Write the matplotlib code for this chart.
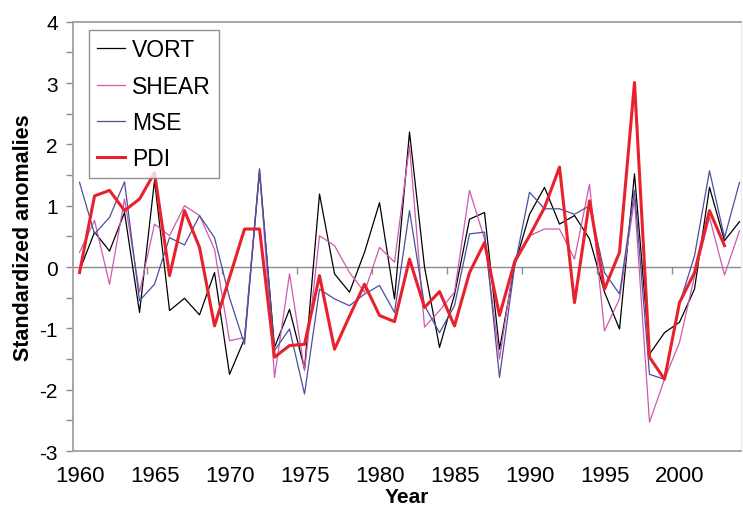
import numpy as np
import matplotlib
matplotlib.use("Agg")
import matplotlib.pyplot as plt

plt.rcParams['font.family'] = ['Liberation Sans', 'DejaVu Sans']

years = np.arange(1960, 2005)

vort = [-0.06, 0.57, 0.26, 0.89, -0.74, 1.41, -0.71, -0.51, -0.78, -0.09,
        -1.75, -1.17, 1.55, -1.31, -0.69, -1.66, 1.19, -0.11, -0.41, 0.24,
        1.05, -0.52, 2.20, 0.00, -1.31, -0.45, 0.78, 0.89, -1.34, 0.02,
        0.86, 1.30, 0.70, 0.84, 0.46, -0.41, -1.01, 1.52, -1.42, -1.07,
        -0.90, -0.36, 1.30, 0.43, 0.74]

shear = [0.24, 0.76, -0.28, 1.11, -0.41, 0.70, 0.51, 1.00, 0.84, 0.29,
         -1.20, -1.15, 1.60, -1.80, -0.11, -1.69, 0.51, 0.35, -0.09, -0.41,
         0.32, 0.08, 1.98, -0.98, -0.71, -0.41, 1.25, 0.46, -1.50, 0.13,
         0.51, 0.62, 0.62, 0.13, 1.35, -1.04, -0.52, 1.11, -2.53, -1.83,
         -1.23, -0.15, 0.81, -0.13, 0.59]

mse = [1.38, 0.54, 0.81, 1.39, -0.55, -0.28, 0.48, 0.36, 0.84, 0.48,
       -0.50, -1.26, 1.60, -1.36, -1.01, -2.07, -0.36, -0.52, -0.63, -0.44,
       -0.30, -0.74, 0.92, -0.63, -1.07, -0.63, 0.54, 0.57, -1.80, 0.00,
       1.22, 0.95, 0.95, 0.86, 1.00, -0.09, -0.44, 1.25, -1.75, -1.83,
       -0.60, 0.18, 1.57, 0.48, 1.38]

# PDI stops at 2003
pdi = [-0.09, 1.16, 1.25, 0.92, 1.11, 1.54, -0.14, 0.92, 0.32, -0.96,
       -0.17, 0.62, 0.62, -1.47, -1.28, -1.26, -0.14, -1.34, -0.80, -0.28,
       -0.79, -0.89, 0.13, -0.66, -0.40, -0.96, -0.09, 0.40, -0.79, 0.08,
       0.51, 0.97, 1.63, -0.58, 1.08, -0.36, 0.24, 3.01, -1.47, -1.83,
       -0.58, -0.09, 0.92, 0.35]

fig = plt.figure(figsize=(7.43, 5.06), dpi=100)
ax = fig.add_axes([0.0983, 0.1067, 0.8990, 0.8483])

ax.axhline(0, color='#8c8c8c', lw=1.0, zorder=1)

ax.plot(years, vort, color='black', lw=0.9, label='VORT', zorder=3)
ax.plot(years, shear, color='#cc5aae', lw=0.9, label='SHEAR', zorder=3)
ax.plot(years, mse, color='#4a4f9e', lw=0.9, label='MSE', zorder=3)
ax.plot(years[:len(pdi)], pdi, color='#e8222c', lw=2.2, label='PDI', zorder=4)

ax.set_xlim(1959.567, 2004.1)
ax.set_ylim(-3, 4)

for s in ['top', 'bottom', 'left']:
    ax.spines[s].set_color('#a0a0a0')
    ax.spines[s].set_linewidth(1.3)
ax.spines['right'].set_color('#ececec')
ax.spines['right'].set_linewidth(1.0)

yt = np.arange(-3, 4.01, 0.5)
ax.set_yticks(yt)
ax.set_yticklabels(['%d' % v if v == int(v) else '' for v in yt])
ax.tick_params(axis='y', direction='out', length=5, width=1, color='#8c8c8c',
               labelsize=15, pad=6)

xt = np.arange(1960, 2001, 5)
ax.set_xticks(xt)
ax.set_xticklabels([str(v) for v in xt])
ax.tick_params(axis='x', length=0, labelsize=16, pad=10)

# category tick marks hanging from the zero line
zax = ax.secondary_xaxis(3 / 7)
zax.set_xticks(np.arange(1964.5, 2000, 5))
zax.set_xticklabels([])
zax.tick_params(direction='out', length=5, width=1, color='#8c8c8c')
zax.spines['bottom'].set_visible(False)

ax.set_ylabel('Standardized anomalies', fontsize=15.5, fontweight='bold', labelpad=4)
ax.set_xlabel('Year', fontsize=15, fontweight='bold', labelpad=1)

leg = ax.legend(loc='upper left', bbox_to_anchor=(0.024, 0.98), fontsize=16.5,
                frameon=True, fancybox=False, handlelength=1.22, handletextpad=0.3,
                borderpad=0.35, labelspacing=0.58, borderaxespad=0)
leg.get_frame().set_edgecolor('#777777')
leg.get_frame().set_linewidth(1.0)

fig.savefig('out.png', dpi=100)
